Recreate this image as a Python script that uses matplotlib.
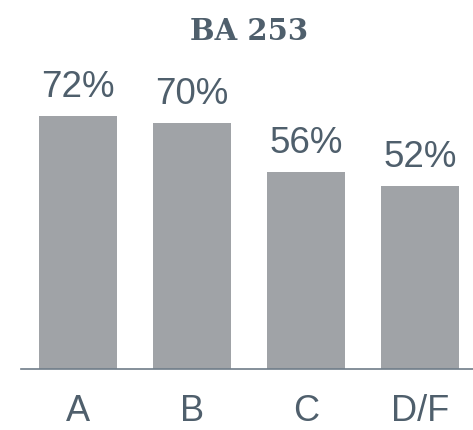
import matplotlib
matplotlib.use('Agg')
import matplotlib.pyplot as plt

# data
categories = ['A', 'B', 'C', 'D/F']
values = [72, 70, 56, 52]
title = 'BA 253'

BAR = '#a0a3a7'
TEXT = '#4f5f6c'
AXIS = '#6f7d89'

W, H = 473, 431
fig = plt.figure(figsize=(W / 100, H / 100), dpi=100)
ax = fig.add_axes([21 / W, 61 / H, 456 / W, 351.5 / H])

x = list(range(len(categories)))
ax.bar(x, values, width=0.68, color=BAR)
ax.set_xlim(-0.5, 3.5)
ax.set_ylim(0, 100)

for xi, v in zip(x, values):
    ax.annotate('{}%'.format(v), xy=(xi, v), xytext=(0, 14.5),
                textcoords='offset points', ha='center', va='baseline',
                fontsize=26.5, color=TEXT, family='Liberation Sans')

for s in ['top', 'right', 'left']:
    ax.spines[s].set_visible(False)
ax.spines['bottom'].set_color(AXIS)
ax.spines['bottom'].set_linewidth(1.2)
ax.set_yticks([])
ax.set_xticks(x)
ax.set_xticklabels(categories, fontsize=26, color=TEXT, family='Liberation Sans')
ax.tick_params(axis='x', length=0, pad=17.5)

ax.set_title(title, fontsize=21, fontweight='bold', family='DejaVu Serif',
             color=TEXT, pad=0, y=(370 - 32 - 8) / 351.5, va='baseline')

plt.savefig('out.png', dpi=100)
